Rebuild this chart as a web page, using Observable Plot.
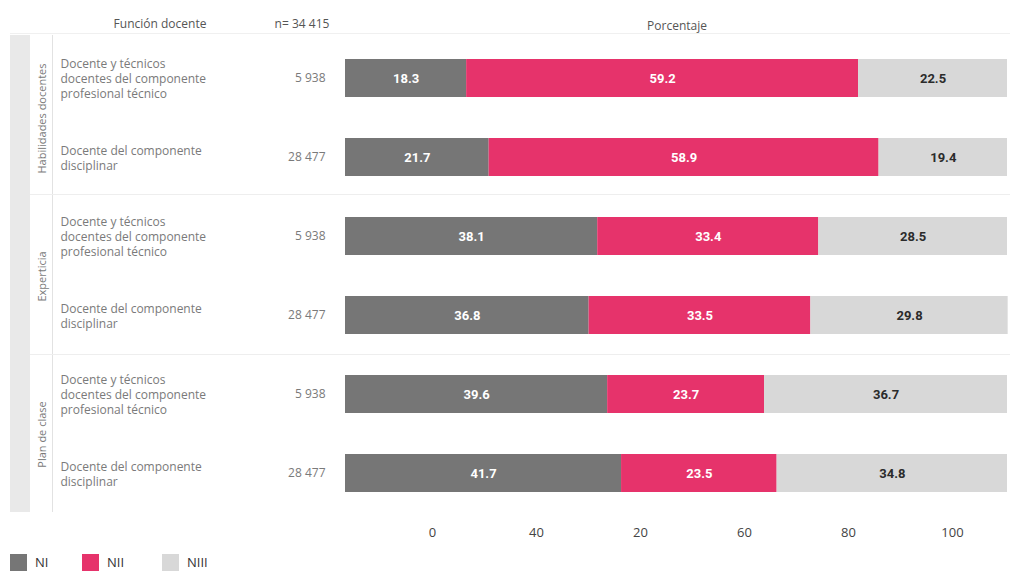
<!DOCTYPE html>
<html>
<head>
<meta charset="utf-8">
<script src="https://cdn.jsdelivr.net/npm/d3@7"></script>
<script src="https://cdn.jsdelivr.net/npm/@observablehq/plot@0.6"></script>
<style>
  html, body { margin: 0; padding: 0; background: #fff; }
  #wrap { position: relative; width: 1020px; height: 571px; overflow: hidden; font-family: "Open Sans", sans-serif; }
  .abs { position: absolute; }
  .hdr { position: absolute; font-size: 12px; color: #555; white-space: nowrap; }
  .legend { position: absolute; top: 553px; left: 10px; display: flex; font-size: 13px; color: #333; }
  .legend .item { display: flex; align-items: center; }
  .legend .sw { width: 17px; height: 17px; margin-right: 8px; }
</style>
</head>
<body>
<div id="wrap"></div>
<script>
// ---- data ----
const groupNames = ["Habilidades docentes", "Experticia", "Plan de clase"];
const rowGroup = [0, 0, 1, 1, 2, 2];
const rowLabels = [
  "Docente y técnicos\ndocentes del componente\nprofesional técnico",
  "Docente del componente\ndisciplinar",
  "Docente y técnicos\ndocentes del componente\nprofesional técnico",
  "Docente del componente\ndisciplinar",
  "Docente y técnicos\ndocentes del componente\nprofesional técnico",
  "Docente del componente\ndisciplinar"
];
const nValues = ["5 938", "28 477", "5 938", "28 477", "5 938", "28 477"];
const levels = ["NI", "NII", "NIII"];
const NI   = [18.3, 21.7, 38.1, 36.8, 39.6, 41.7];
const NII  = [59.2, 58.9, 33.4, 33.5, 23.7, 23.5];
const NIII = [22.5, 19.4, 28.5, 29.8, 36.7, 34.8];
const levelColors = ["#767676", "#e6336b", "#d8d8d8"];
const tickLabels = ["0", "40", "20", "60", "80", "100"];
const headerFuncion = "Función docente";
const headerN = "n= 34 415";
const headerPct = "Porcentaje";

// ---- derived tables ----
const series = [NI, NII, NIII];
const rows = rowLabels.map((label, i) => ({row: i, label, n: nValues[i], group: rowGroup[i]}));
const segs = [];
rows.forEach(r => {
  let acc = 0;
  levels.forEach((lv, j) => {
    const v = series[j][r.row];
    segs.push({row: r.row, level: lv, value: v, x1: acc, x2: acc + v, mid: acc + v / 2});
    acc += v;
  });
});
const groupData = groupNames.map((name, g) => {
  const rs = rows.filter(r => r.group === g).map(r => r.row);
  return {name, first: rs[0]};
});

const wrap = document.getElementById("wrap");

// decorations
function addDiv(style) {
  const d = document.createElement("div");
  d.className = "abs";
  Object.assign(d.style, style);
  wrap.appendChild(d);
  return d;
}
addDiv({left: "10px", top: "35px", width: "20px", height: "477px", background: "#e9e9e9"});
addDiv({left: "52px", top: "35px", width: "1px", height: "477px", background: "#e2e2e2"});
addDiv({left: "10px", top: "33px", width: "1000px", height: "1px", background: "#f0f0f0"});
addDiv({left: "30px", top: "194px", width: "980px", height: "1px", background: "#eeeeee"});
addDiv({left: "30px", top: "354px", width: "980px", height: "1px", background: "#eeeeee"});

// headers
function addHdr(text, style) {
  const d = document.createElement("div");
  d.className = "hdr";
  d.textContent = text;
  Object.assign(d.style, style);
  wrap.appendChild(d);
}
addHdr(headerFuncion, {left: "110px", top: "15px", width: "100px", textAlign: "center"});
addHdr(headerN, {left: "262px", top: "15px", width: "80px", textAlign: "center"});
addHdr(headerPct, {left: "627px", top: "17px", width: "100px", textAlign: "center"});

// main plot
const main = Plot.plot({
  width: 1020,
  height: 520,
  marginTop: 36,
  marginBottom: 5,
  marginLeft: 345,
  marginRight: 13,
  style: {fontFamily: "Open Sans, sans-serif", background: "transparent"},
  x: {domain: [0, 100], axis: null},
  y: {domain: rows.map(r => r.row), axis: null, paddingInner: 0.52, paddingOuter: 0.26},
  color: {domain: levels, range: levelColors},
  marks: [
    Plot.barX(segs, {x1: "x1", x2: "x2", y: "row", fill: "level"}),
    Plot.text(segs.filter(d => d.level !== "NIII"), {
      x: "mid", y: "row", text: d => d.value.toFixed(1),
      fill: "white", fontWeight: "bold", fontSize: 13,
      fontFamily: "Liberation Sans Narrow, Roboto, sans-serif"
    }),
    Plot.text(segs.filter(d => d.level === "NIII"), {
      x: "mid", y: "row", text: d => d.value.toFixed(1),
      fill: "#2b2b2b", fontWeight: "bold", fontSize: 13,
      fontFamily: "Liberation Sans Narrow, Roboto, sans-serif"
    }),
    Plot.text(rows, {
      y: "row", text: "label", frameAnchor: "left", dx: -285, textAnchor: "start",
      fontSize: 12, fill: "#7a7a7a", lineHeight: 1.25
    }),
    Plot.text(rows, {
      y: "row", text: "n", frameAnchor: "left", dx: -20, textAnchor: "end",
      fontSize: 12, fill: "#7a7a7a"
    }),
    Plot.text(groupData, {
      y: "first", text: "name", frameAnchor: "left", dx: -303, dy: 40, rotate: -90,
      textAnchor: "middle", fontSize: 11, fill: "#7a7a7a"
    })
  ]
});
main.style.position = "absolute";
main.style.left = "0px";
main.style.top = "0px";
wrap.appendChild(main);

// tick-label axis (as printed in the source)
const axis = Plot.plot({
  width: 1020,
  height: 30,
  margin: 0,
  style: {fontFamily: "Open Sans, sans-serif", background: "transparent"},
  x: {type: "point", domain: tickLabels, range: [379, 1005], axis: null},
  marks: [
    Plot.text(tickLabels, {x: d => d, text: d => d, frameAnchor: "middle", fontSize: 13, fill: "#444"})
  ]
});
axis.style.position = "absolute";
axis.style.left = "0px";
axis.style.top = "517px";
wrap.appendChild(axis);

// legend
const leg = document.createElement("div");
leg.className = "legend";
const widths = [72, 80, 80];
levels.forEach((lv, i) => {
  const it = document.createElement("div");
  it.className = "item";
  it.style.width = widths[i] + "px";
  const sw = document.createElement("div");
  sw.className = "sw";
  sw.style.background = levelColors[i];
  const tx = document.createElement("span");
  tx.textContent = lv;
  it.appendChild(sw);
  it.appendChild(tx);
  leg.appendChild(it);
});
wrap.appendChild(leg);
</script>
</body>
</html>
